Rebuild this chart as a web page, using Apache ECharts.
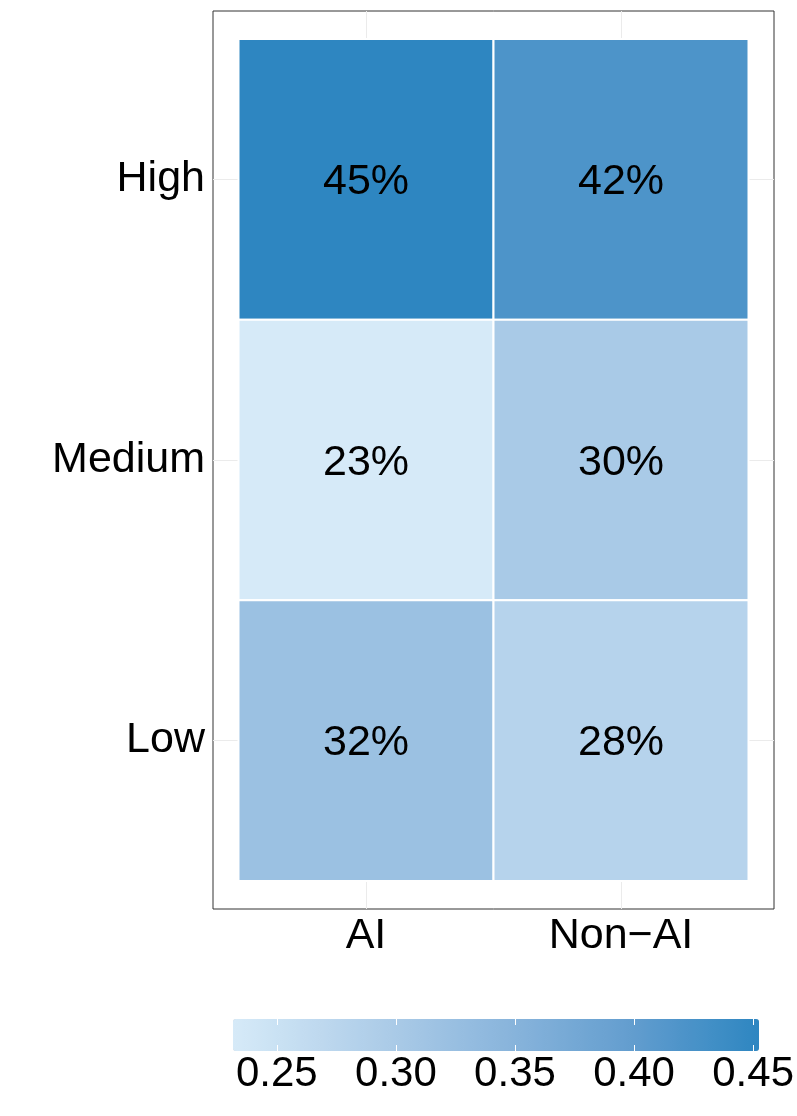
<!DOCTYPE html>
<html>
<head>
<meta charset="utf-8">
<script src="https://cdn.jsdelivr.net/npm/echarts@6/dist/echarts.min.js"></script>
<style>html,body{margin:0;padding:0;background:#fff;}#c{width:797px;height:1116px;}</style>
</head>
<body>
<div id="c"></div>
<script>
const categories = ['AI', 'Non\u2212AI'];
const levels = ['High', 'Medium', 'Low'];
const aiValues = [0.4514, 0.2316, 0.32];
const nonAiValues = [0.42, 0.30, 0.28];
const colorbarTicks = [0.25, 0.30, 0.35, 0.40, 0.45];
const colorMin = 0.2316;
const colorMax = 0.4514;

const FONT = 'Liberation Sans, Arial, Helvetica, sans-serif';
const FS = 43;

const cells = [];
[aiValues, nonAiValues].forEach((vals, xi) => {
  vals.forEach((v, yi) => cells.push([xi, yi, v]));
});

const chart = echarts.init(document.getElementById('c'), null, {renderer: 'canvas'});
chart.setOption({
  backgroundColor: '#ffffff',
  animation: false,
  grid: [
    {left: 213, right: 23, top: 11, bottom: 207, show: true, borderColor: '#333333', borderWidth: 1, backgroundColor: '#ffffff', containLabel: false},
    {left: 233, width: 526, top: 1019, height: 32, show: false}
  ],
  xAxis: [
    {
      type: 'value', gridIndex: 0, min: -0.6, max: 1.6,
      axisLine: {show: false},
      axisTick: {show: true, length: 4, lineStyle: {color: '#333333'}, customValues: [0, 1]},
      axisLabel: {customValues: [0, 1], formatter: v => categories[Math.round(v)], fontSize: FS, fontFamily: FONT, color: '#000', margin: 6},
      splitLine: {show: true, lineStyle: {color: '#ebebeb', width: 1}}
    },
    {
      type: 'value', gridIndex: 1, min: colorMin, max: colorMax, z: 10,
      axisLine: {show: false},
      axisTick: {show: true, inside: true, length: 6, lineStyle: {color: '#ffffff', width: 1}, customValues: colorbarTicks},
      axisLabel: {customValues: colorbarTicks, formatter: v => v.toFixed(2), fontSize: 42, fontFamily: FONT, color: '#000', margin: 2},
      splitLine: {show: false}
    },
    {
      type: 'value', gridIndex: 1, position: 'top', min: colorMin, max: colorMax, z: 10,
      axisLine: {show: false},
      axisTick: {show: true, inside: true, length: 6, lineStyle: {color: '#ffffff', width: 1}, customValues: colorbarTicks},
      axisLabel: {show: false},
      splitLine: {show: false}
    }
  ],
  yAxis: [
    {
      type: 'value', gridIndex: 0, min: -0.6, max: 2.6, inverse: true,
      axisLine: {show: false},
      axisTick: {show: true, length: 4, lineStyle: {color: '#333333'}, customValues: [0, 1, 2]},
      axisLabel: {customValues: [0, 1, 2], formatter: v => levels[Math.round(v)], fontSize: FS, fontFamily: FONT, color: '#000', margin: 8, padding: [6, 0, 0, 0]},
      splitLine: {show: true, lineStyle: {color: '#ebebeb', width: 1}}
    },
    {type: 'value', gridIndex: 1, min: 0, max: 1, show: false}
  ],
  visualMap: {
    type: 'continuous',
    seriesIndex: 0,
    min: colorMin, max: colorMax,
    orient: 'horizontal',
    left: 233, top: 1019,
    itemWidth: 32, itemHeight: 526,
    padding: 0,
    calculable: false,
    realtime: false,
    hoverLink: false,
    inRange: {color: ['#D6EAF8', '#B2D0EA', '#8DB7DD', '#649ECF', '#2E86C1']},
    dimension: 2
  },
  series: [{
    type: 'custom',
    xAxisIndex: 0, yAxisIndex: 0,
    data: cells,
    encode: {x: 0, y: 1},
    renderItem: function (params, api) {
      const x = api.value(0), y = api.value(1), v = api.value(2);
      const p0 = api.coord([x - 0.5, y - 0.5]);
      const p1 = api.coord([x + 0.5, y + 0.5]);
      return {
        type: 'rect',
        shape: {x: Math.min(p0[0], p1[0]), y: Math.min(p0[1], p1[1]), width: Math.abs(p1[0] - p0[0]), height: Math.abs(p1[1] - p0[1])},
        style: {fill: api.visual('color'), stroke: '#ffffff', lineWidth: 2},
        textContent: {style: {text: Math.round(v * 100) + '%', fontSize: FS, fontFamily: FONT, fill: '#000'}},
        textConfig: {position: 'inside', offset: [0, 3]}
      };
    }
  }]
});
</script>
</body>
</html>
